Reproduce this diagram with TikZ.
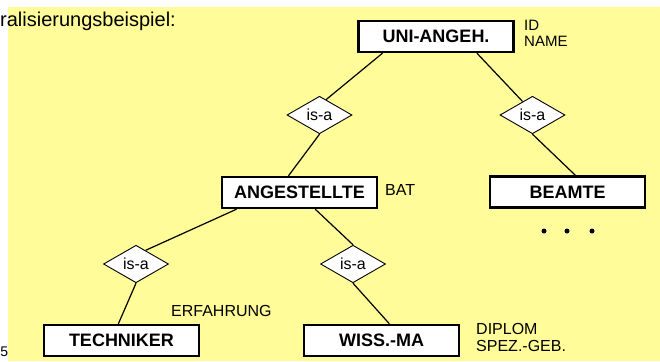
\documentclass[tikz,border=0pt]{standalone}
\usepackage{fontspec}
\setmainfont{Liberation Sans}
\usetikzlibrary{calc, positioning, shapes.geometric}

\definecolor{slideyellow}{RGB}{255,252,153}

\begin{document}
\begin{tikzpicture}[x=1pt, y=-1pt,
  entity/.style={draw, line width=2.4pt, fill=white, minimum width=155pt,
    minimum height=31pt, inner sep=0pt, font=\fontsize{18}{20}\selectfont\bfseries},
  isa/.style={draw, diamond, fill=white, line width=0.9pt, minimum width=65pt,
    minimum height=37pt, inner sep=0pt, font=\fontsize{16}{18}\selectfont},
  attr/.style={anchor=base west, inner sep=0pt, font=\fontsize{16}{18}\selectfont},
  link/.style={line width=1.2pt}]
\useasboundingbox (0,0) rectangle (660,361);
% Draw slide background
\fill[slideyellow] (8,7) rectangle (660,361);
\node[anchor=base west, inner sep=0pt, font=\fontsize{20}{24}\selectfont] (title) at (0,26.5) {ralisierungsbeispiel:};
\node[anchor=base west, inner sep=0pt, font=\fontsize{14}{16}\selectfont] (pagenum) at (0.3,356) {5};

% Entity types
\node[entity] (uni) at (436,36.5) {UNI-ANGEH.};
\node[entity] (ang) at (299.5,192.5) {ANGESTELLTE};
\node[entity] (beamte) at (567.5,192) {BEAMTE};
\node[entity] (tech) at (121.5,340.5) {TECHNIKER};
\node[entity] (wiss) at (381.5,340.5) {WISS.-MA};

% is-a relationships
\node[isa] (isaU) at (319.5,115) {is-a};
\node[isa] (isaB) at (532.5,115) {is-a};
\node[isa] (isaT) at (136,264) {is-a};
\node[isa] (isaW) at (353,264) {is-a};

% Attributes
\node[attr, font=\fontsize{15}{16}\selectfont] (id) at (524,30.7) {ID};
\node[attr, font=\fontsize{15}{16}\selectfont] (name) at ($(id.base west)+(0,16)$) {NAME};
\node[attr] (bat) at (385,195.5) {BAT};
\node[attr] (erf) at (171,316.5) {ERFAHRUNG};
\node[attr] (diplom) at (476,334.5) {DIPLOM};
\node[attr] (spez) at ($(diplom.base west)+(0,17)$) {SPEZ.-GEB.};

% Connect generalisation hierarchy
\draw[link] ($(uni.south west)!.16!(uni.south east)$) -- ($(isaU.north)!.2!(isaU.east)$);
\draw[link] (isaU.south) -- ($(ang.north west)!.43!(ang.north east)$);
\draw[link] ($(uni.south west)!.76!(uni.south east)$) -- ($(isaB.north)!.3!(isaB.west)$);
\draw[link] (isaB.south) -- ($(beamte.north west)!.55!(beamte.north east)$);
\draw[link] ($(ang.south west)!.1!(ang.south east)$) -- ($(isaT.north)!.29!(isaT.east)$);
\draw[link] (isaT.south) -- ($(tech.north west)!.48!(tech.north east)$);
\draw[link] ($(ang.south west)!.6!(ang.south east)$) -- (isaW.north);
\draw[link] (isaW.south) -- ($(wiss.north west)!.55!(wiss.north east)$);

% more subtypes
\foreach \x in {544,567,592} {
  \fill (\x,231) circle (2.5pt);
}

\end{tikzpicture}
\end{document}
